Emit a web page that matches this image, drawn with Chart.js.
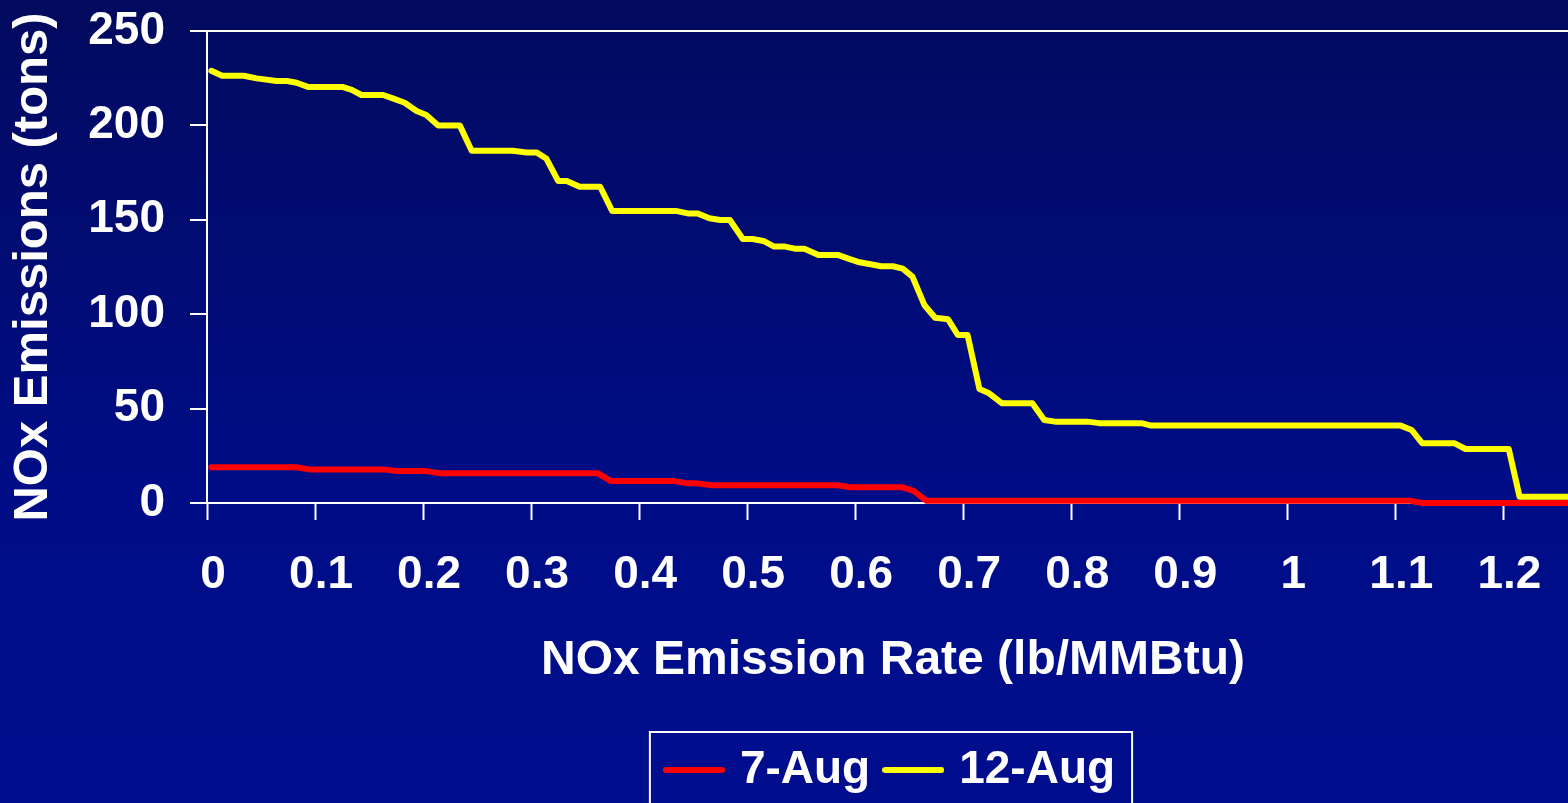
<!DOCTYPE html>
<html>
<head>
<meta charset="utf-8">
<title>NOx Emissions vs Emission Rate</title>
<script src="https://cdn.jsdelivr.net/npm/chart.js@4/dist/chart.umd.min.js"></script>
<style>
  html, body { margin: 0; padding: 0; background: #000b70; overflow: hidden; }
  #wrap { width: 1568px; height: 803px; overflow: hidden; position: relative; }
  #chart { display: block; }
</style>
</head>
<body>
<div id="wrap"><canvas id="chart" width="1783" height="803"></canvas></div>
<script>
// Cumulative NOx emissions (tons) from units at or above each emission rate (lb/MMBtu)
const rateAug7 = [0.004, 0.083, 0.094, 0.163, 0.176, 0.203, 0.216, 0.362, 0.374, 0.433,
  0.445, 0.454, 0.467, 0.584, 0.595, 0.644, 0.654, 0.666, 1.114, 1.125, 1.27];
const tonsAug7 = [18.9, 18.9, 17.8, 17.8, 16.9, 16.9, 15.7, 15.7, 11.6, 11.6,
  10.4, 10.4, 9.4, 9.4, 8.3, 8.3, 6.4, 1.2, 1.2, 0, 0];

const rateAug12 = [0.004, 0.014, 0.034, 0.046, 0.0645, 0.074, 0.083, 0.094, 0.126, 0.134,
  0.143, 0.163, 0.172, 0.183, 0.194, 0.203, 0.214, 0.234, 0.245, 0.283,
  0.296, 0.305, 0.314, 0.325, 0.333, 0.345, 0.364, 0.375, 0.434, 0.445,
  0.454, 0.465, 0.475, 0.484, 0.496, 0.505, 0.515, 0.525, 0.535, 0.544,
  0.553, 0.566, 0.584, 0.593, 0.604, 0.613, 0.624, 0.635, 0.644, 0.653,
  0.664, 0.674, 0.686, 0.695, 0.704, 0.715, 0.724, 0.736, 0.764, 0.775,
  0.785, 0.815, 0.826, 0.865, 0.874, 1.105, 1.115, 1.125, 1.155, 1.165,
  1.205, 1.215, 1.27];
const tonsAug12 = [228.9, 226.3, 226.3, 224.9, 223.5, 223.5, 222.6, 220.3, 220.3, 218.8,
  216.1, 216.1, 214.3, 212.0, 207.6, 205.5, 200.0, 200.0, 186.6, 186.6,
  185.7, 185.7, 182.5, 170.6, 170.6, 167.5, 167.5, 154.7, 154.7, 153.4,
  153.4, 150.8, 149.9, 149.9, 139.8, 139.8, 138.8, 135.8, 135.8, 134.7,
  134.7, 131.4, 131.4, 129.6, 127.5, 126.6, 125.4, 125.4, 124.1, 119.9,
  104.9, 98.1, 97.3, 89.0, 89.0, 60.4, 58.1, 52.8, 52.8, 44.0,
  43.1, 43.1, 42.3, 42.3, 41.0, 41.0, 38.7, 31.6, 31.6, 28.6,
  28.6, 3.3, 3.3];

const seriesNames = ['7-Aug', '12-Aug'];
const seriesColors = ['#ff0000', '#ffff00'];
const xTickValues = [0, 0.1, 0.2, 0.3, 0.4, 0.5, 0.6, 0.7, 0.8, 0.9, 1, 1.1, 1.2];
const xTickLabels = ['0', '0.1', '0.2', '0.3', '0.4', '0.5', '0.6', '0.7', '0.8', '0.9', '1', '1.1', '1.2'];
const yTickValues = [0, 50, 100, 150, 200, 250];

const FONT = '"Liberation Sans", Arial, sans-serif';
const toPoints = (xs, ys) => xs.map((x, i) => ({ x: x, y: ys[i] }));

// Legend swatch: a short round-capped stroke in the series colour
function lineSwatch(color) {
  const c = document.createElement('canvas');
  c.width = 62;
  c.height = 8;
  const g = c.getContext('2d');
  g.strokeStyle = color;
  g.lineWidth = 6;
  g.lineCap = 'round';
  g.beginPath();
  g.moveTo(3, 4);
  g.lineTo(59, 4);
  g.stroke();
  return c;
}

// Slide-style blue backdrop, darker at the top
const backdrop = {
  id: 'backdrop',
  beforeDraw(chart) {
    const { ctx, width, height } = chart;
    const g = ctx.createLinearGradient(0, 0, 0, height);
    g.addColorStop(0, '#020a5e');
    g.addColorStop(0.6, '#000d86');
    g.addColorStop(1, '#000e8e');
    ctx.save();
    ctx.fillStyle = g;
    ctx.fillRect(0, 0, width, height);
    ctx.restore();
  }
};

// Center the legend under the plot area rather than the whole canvas
const legendUnderPlot = {
  id: 'legendUnderPlot',
  afterLayout(chart) {
    const lg = chart.legend;
    if (!lg) return;
    lg.left = chart.chartArea.left;
    lg.right = chart.chartArea.right;
    lg.width = lg.right - lg.left;
  }
};

// Thin white frame around the legend entries
const legendFrame = {
  id: 'legendFrame',
  afterDraw(chart) {
    const lg = chart.legend;
    if (!lg || !lg.legendHitBoxes || !lg.legendHitBoxes.length) return;
    const boxes = lg.legendHitBoxes;
    const first = boxes[0], last = boxes[boxes.length - 1];
    const x1 = first.left - 21;
    const x2 = last.left + last.width + 17;
    const cy = first.top + first.height / 2;
    const ctx = chart.ctx;
    ctx.save();
    ctx.strokeStyle = '#ffffff';
    ctx.lineWidth = 2;
    ctx.strokeRect(x1, cy - 38, x2 - x1, 90);
    ctx.restore();
  }
};

new Chart(document.getElementById('chart'), {
  type: 'line',
  data: {
    datasets: [
      {
        label: seriesNames[0],
        data: toPoints(rateAug7, tonsAug7),
        borderColor: seriesColors[0],
        backgroundColor: seriesColors[0],
        pointStyle: lineSwatch(seriesColors[0]),
        borderWidth: 6,
        borderCapStyle: 'round',
        borderJoinStyle: 'round',
        pointRadius: 0,
        tension: 0,
        clip: false
      },
      {
        label: seriesNames[1],
        data: toPoints(rateAug12, tonsAug12),
        borderColor: seriesColors[1],
        backgroundColor: seriesColors[1],
        pointStyle: lineSwatch(seriesColors[1]),
        borderWidth: 6,
        borderCapStyle: 'round',
        borderJoinStyle: 'round',
        pointRadius: 0,
        tension: 0,
        clip: false
      }
    ]
  },
  options: {
    responsive: false,
    animation: false,
    events: [],
    layout: { padding: { top: 31, left: 0, right: 204, bottom: 0 } },
    plugins: {
      tooltip: { enabled: false },
      legend: {
        position: 'bottom',
        align: 'center',
        labels: {
          color: '#ffffff',
          font: { family: FONT, size: 46, weight: 'bold' },
          usePointStyle: true,
          pointStyleWidth: 46,
          padding: 20
        }
      }
    },
    scales: {
      x: {
        type: 'linear',
        min: 0,
        max: 1.27,
        afterFit(scale) { scale.height = 224; },
        afterBuildTicks(scale) { scale.ticks = xTickValues.map(v => ({ value: v })); },
        border: { display: true, color: '#ffffff', width: 2 },
        grid: {
          display: true,
          drawOnChartArea: false,
          drawTicks: true,
          tickLength: 17,
          tickColor: '#ffffff',
          tickWidth: 2
        },
        ticks: {
          color: '#ffffff',
          font: { family: FONT, size: 46, weight: 'bold' },
          padding: 28,
          labelOffset: 6,
          maxRotation: 0,
          autoSkip: false,
          callback: (v, i) => xTickLabels[i]
        },
        title: {
          display: true,
          text: 'NOx Emission Rate (lb/MMBtu)',
          color: '#ffffff',
          font: { family: FONT, size: 48, weight: 'bold' },
          padding: { top: 0, bottom: 37 }
        }
      },
      y: {
        type: 'linear',
        min: 0,
        max: 250,
        afterFit(scale) {
          scale.width = 207;
          scale.paddingTop = 0;
          scale.paddingBottom = 0;
        },
        afterBuildTicks(scale) { scale.ticks = yTickValues.map(v => ({ value: v })); },
        border: { display: true, color: '#ffffff', width: 2 },
        grid: {
          display: true,
          drawOnChartArea: true,
          color: ctx => (ctx.tick && ctx.tick.value === 250 ? '#ffffff' : 'rgba(0,0,0,0)'),
          lineWidth: 2,
          tickLength: 17,
          tickColor: '#ffffff',
          tickWidth: 2
        },
        ticks: {
          color: '#ffffff',
          font: { family: FONT, size: 46, weight: 'bold' },
          padding: 25
        },
        title: {
          display: true,
          text: 'NOx Emissions (tons)',
          color: '#ffffff',
          font: { family: FONT, size: 49, weight: 'bold' },
          padding: { top: 4, bottom: 0 }
        }
      }
    }
  },
  plugins: [backdrop, legendUnderPlot, legendFrame]
});
</script>
</body>
</html>
